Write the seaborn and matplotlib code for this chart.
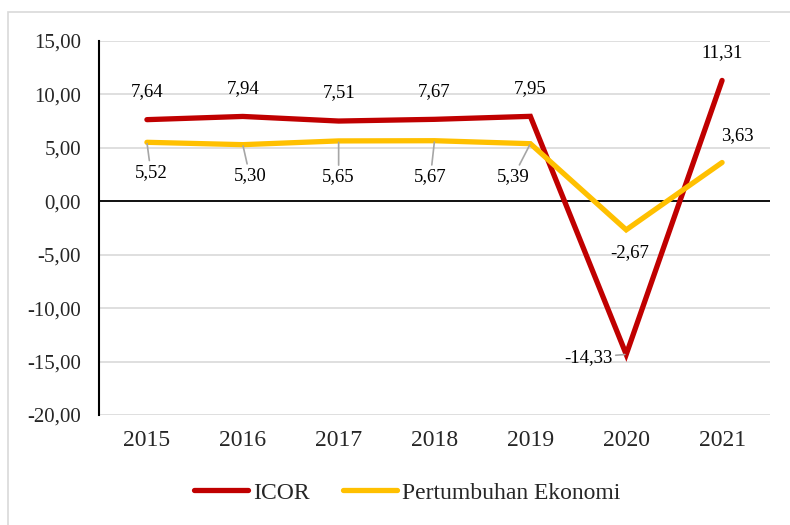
import pandas as pd
import matplotlib.pyplot as plt
import seaborn as sns
from matplotlib.lines import Line2D
from matplotlib.patches import Rectangle

# Datos
tahun = ['2015', '2016', '2017', '2018', '2019', '2020', '2021']
icor = [7.64, 7.94, 7.51, 7.67, 7.95, -14.33, 11.31]
pertumbuhan = [5.52, 5.30, 5.65, 5.67, 5.39, -2.67, 3.63]
yticks = [15, 10, 5, 0, -5, -10, -15, -20]

MERAH = '#C00000'
KUNING = '#FFC000'

df = pd.DataFrame({
    'tahun': tahun * 2,
    'nilai': icor + pertumbuhan,
    'seri': ['ICOR'] * len(tahun) + ['Pertumbuhan Ekonomi'] * len(tahun),
})

sns.set_theme(style="white")
plt.rcParams['font.family'] = ['Liberation Serif', 'DejaVu Serif']

fig = plt.figure(figsize=(7.9, 5.25), dpi=100)
ax = fig.add_axes([0.1253, 0.2095, 0.8494, 0.7124])

# marco exterior gris claro
fig.patches.append(Rectangle((8 / 790, -0.05), 1.1, 1 - 12 / 525 + 0.05,
                             transform=fig.transFigure, fill=False,
                             edgecolor='#D9D9D9', linewidth=1.2))

sns.lineplot(data=df, x='tahun', y='nilai', hue='seri',
             palette={'ICOR': MERAH, 'Pertumbuhan Ekonomi': KUNING},
             linewidth=3.8, legend=False, ax=ax, sort=False,
             solid_capstyle='round', solid_joinstyle='miter')

ax.set_xlim(-0.5, 6.5)
ax.set_ylim(-20, 15)
ax.set_yticks(yticks)
ax.set_yticklabels([f"{v:.2f}".replace('.', ',') for v in yticks], fontsize=15)
ax.tick_params(axis='y', length=0, pad=13)
ax.tick_params(axis='x', length=0, pad=11, labelsize=17)
ax.set_xlabel('')
ax.set_ylabel('')
ax.grid(axis='y', color='#D9D9D9', linewidth=1.2)
ax.set_axisbelow(True)
ax.axhline(0, color='black', linewidth=1.3, zorder=1.5)
for s in ['top', 'right', 'bottom']:
    ax.spines[s].set_visible(False)
ax.spines['left'].set_color('black')
ax.spines['left'].set_linewidth(1.5)

def fmt(v):
    return f"{v:.2f}".replace('.', ',')

# desplazamiento de etiquetas (pixeles) y si llevan linea guia
off_icor = [(0, 28, False), (0, 28, False), (0, 28, False), (0, 28, False),
            (0, 28, False), (-38, -3, True), (0, 28, False)]
off_pe = [(4, -30, True), (7, -31, True), (0, -36, True), (-4, -36, True),
          (-17, -33, True), (3, -23, False), (15, 27, False)]

for serie, offs in [(icor, off_icor), (pertumbuhan, off_pe)]:
    for i, (v, (dx, dy, guia)) in enumerate(zip(serie, offs)):
        kw = {}
        if guia:
            kw['arrowprops'] = dict(arrowstyle='-', color='#A6A6A6', lw=1.2,
                                    shrinkA=0, shrinkB=1)
        ax.annotate(fmt(v), xy=(i, v), xytext=(dx, dy),
                    textcoords='offset pixels', ha='center', va='center',
                    fontsize=13.5, color='black', **kw)

handles = [Line2D([], [], color=MERAH, lw=3.8, solid_capstyle='round'),
           Line2D([], [], color=KUNING, lw=3.8, solid_capstyle='round')]
fig.legend(handles, ['ICOR', 'Pertumbuhan Ekonomi'], loc='center',
           bbox_to_anchor=(0.515, 0.061), ncol=2, frameon=False,
           fontsize=17, handlelength=2.3, handletextpad=0.2,
           columnspacing=1.4)

fig.savefig('out.png', dpi=100)
